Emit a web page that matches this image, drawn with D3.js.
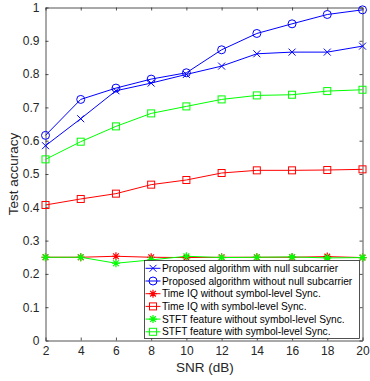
<!DOCTYPE html>
<html>
<head>
<meta charset="utf-8">
<script src="https://cdn.jsdelivr.net/npm/d3@7"></script>
<style>
  body { margin: 0; background: #fff; }
  svg { font-family: "Liberation Sans", Arial, sans-serif; }
</style>
</head>
<body>
<div id="chart"></div>
<script>
let snr = [2, 4, 6, 8, 10, 12, 14, 16, 18, 20];

let withNull = [0.585, 0.666, 0.750, 0.773, 0.799, 0.824, 0.861, 0.866, 0.866, 0.884];
let withoutNull = [0.616, 0.724, 0.758, 0.785, 0.804, 0.873, 0.922, 0.951, 0.979, 0.993];
let iqNoSync = [0.250, 0.250, 0.253, 0.250, 0.249, 0.250, 0.250, 0.250, 0.252, 0.249];
let iqSync = [0.407, 0.425, 0.441, 0.468, 0.482, 0.503, 0.511, 0.511, 0.512, 0.514];
let stftNoSync = [0.250, 0.250, 0.232, 0.242, 0.253, 0.249, 0.250, 0.251, 0.248, 0.249];
let stftSync = [0.544, 0.597, 0.643, 0.682, 0.703, 0.724, 0.736, 0.738, 0.749, 0.753];

let xTicks = [2, 4, 6, 8, 10, 12, 14, 16, 18, 20];
let yTicks = [0, 0.1, 0.2, 0.3, 0.4, 0.5, 0.6, 0.7, 0.8, 0.9, 1];

let series = [
  { name: 'Proposed algorithm with null subcarrier', values: withNull, color: '#0000ff', marker: 'x' },
  { name: 'Proposed algorithm without null subcarrier', values: withoutNull, color: '#0000ff', marker: 'o' },
  { name: 'Time IQ without symbol-level Sync.', values: iqNoSync, color: '#ff0000', marker: '*' },
  { name: 'Time IQ with symbol-level Sync.', values: iqSync, color: '#ff0000', marker: 's' },
  { name: 'STFT feature without symbol-level Sync.', values: stftNoSync, color: '#00ff00', marker: '*' },
  { name: 'STFT feature with symbol-level Sync.', values: stftSync, color: '#00ff00', marker: 's' }
];

let width = 370, height = 381;
let plotLeft = 45.5, plotRight = 362.5, plotTop = 7.5, plotBottom = 340.5;
let axisColor = '#262626';

let svg = d3.select('#chart').append('svg')
  .attr('width', width)
  .attr('height', height);

let x = d3.scaleLinear().domain([2, 20]).range([plotLeft, plotRight]);
let y = d3.scaleLinear().domain([0, 1]).range([plotBottom, plotTop]);

// axes box with inward ticks on all sides
svg.append('g')
  .attr('transform', 'translate(0,' + plotBottom + ')')
  .call(d3.axisBottom(x).tickValues(xTicks).tickSizeInner(-3).tickSizeOuter(0).tickPadding(6))
  .call(g => g.selectAll('text').attr('font-size', 12));
svg.append('g')
  .attr('transform', 'translate(0,' + plotTop + ')')
  .call(d3.axisTop(x).tickValues(xTicks).tickSizeInner(-3).tickSizeOuter(0).tickFormat(''));
svg.append('g')
  .attr('transform', 'translate(' + plotLeft + ',0)')
  .call(d3.axisLeft(y).tickValues(yTicks).tickSizeInner(-3).tickSizeOuter(0).tickPadding(6)
    .tickFormat(d => d === 0 || d === 1 ? d3.format('d')(d) : d3.format('.1f')(d)))
  .call(g => g.selectAll('text').attr('font-size', 12));
svg.append('g')
  .attr('transform', 'translate(' + plotRight + ',0)')
  .call(d3.axisRight(y).tickValues(yTicks).tickSizeInner(-3).tickSizeOuter(0).tickFormat(''));

svg.selectAll('.domain, .tick line')
  .attr('stroke', axisColor)
  .attr('stroke-width', 0.8);
svg.selectAll('.tick text').attr('fill', axisColor).attr('font-family', '"Liberation Sans", Arial, sans-serif');

let line = d3.line()
  .x((d, i) => x(snr[i]))
  .y(d => y(d));

function drawMarker(g, type, color, cx, cy) {
  if (type === 'x') {
    g.append('path')
      .attr('d', 'M' + (cx - 3.5) + ',' + (cy - 3.5) + 'L' + (cx + 3.5) + ',' + (cy + 3.5) +
        'M' + (cx - 3.5) + ',' + (cy + 3.5) + 'L' + (cx + 3.5) + ',' + (cy - 3.5))
      .attr('stroke', color).attr('fill', 'none').attr('stroke-width', 1);
  } else if (type === 'o') {
    g.append('circle')
      .attr('cx', cx).attr('cy', cy).attr('r', 4)
      .attr('stroke', color).attr('fill', 'none').attr('stroke-width', 1);
  } else if (type === 's') {
    g.append('rect')
      .attr('x', cx - 3.5).attr('y', cy - 3.5).attr('width', 7).attr('height', 7)
      .attr('stroke', color).attr('fill', 'none').attr('stroke-width', 1);
  } else if (type === '*') {
    let r = 4;
    let d = '';
    for (let k = 0; k < 4; k++) {
      let a = k * Math.PI / 4;
      d += 'M' + (cx - r * Math.cos(a)) + ',' + (cy - r * Math.sin(a)) +
        'L' + (cx + r * Math.cos(a)) + ',' + (cy + r * Math.sin(a));
    }
    g.append('path').attr('d', d)
      .attr('stroke', color).attr('fill', 'none').attr('stroke-width', 1.2);
  }
}

series.forEach(function(s) {
  let g = svg.append('g');
  g.append('path')
    .datum(s.values)
    .attr('d', line)
    .attr('fill', 'none')
    .attr('stroke', s.color)
    .attr('stroke-width', 1);
  s.values.forEach(function(v, i) {
    drawMarker(g, s.marker, s.color, x(snr[i]), y(v));
  });
});

// legend
let legX = 144.5, legY = 260.5, legW = 215, legH = 78;
let leg = svg.append('g');
leg.append('rect')
  .attr('x', legX).attr('y', legY).attr('width', legW).attr('height', legH)
  .attr('fill', '#fff').attr('stroke', axisColor).attr('stroke-width', 0.8);

series.forEach(function(s, i) {
  let cy = legY + 7.8 + i * 12.7;
  leg.append('line')
    .attr('x1', legX + 1).attr('x2', legX + 16)
    .attr('y1', cy).attr('y2', cy)
    .attr('stroke', s.color).attr('stroke-width', 1);
  drawMarker(leg, s.marker, s.color, legX + 8.5, cy);
  leg.append('text')
    .attr('x', legX + 17.5).attr('y', cy)
    .attr('dy', '0.35em')
    .attr('font-size', 10.2)
    .attr('fill', '#000')
    .text(s.name);
});

svg.append('text')
  .attr('x', (plotLeft + plotRight) / 2 + 1)
  .attr('y', 372)
  .attr('text-anchor', 'middle')
  .attr('font-size', 13.5)
  .attr('fill', axisColor)
  .text('SNR (dB)');

svg.append('text')
  .attr('transform', 'translate(18,' + ((plotTop + plotBottom) / 2) + ') rotate(-90)')
  .attr('text-anchor', 'middle')
  .attr('font-size', 13.5)
  .attr('fill', axisColor)
  .text('Test accuracy');
</script>
</body>
</html>
